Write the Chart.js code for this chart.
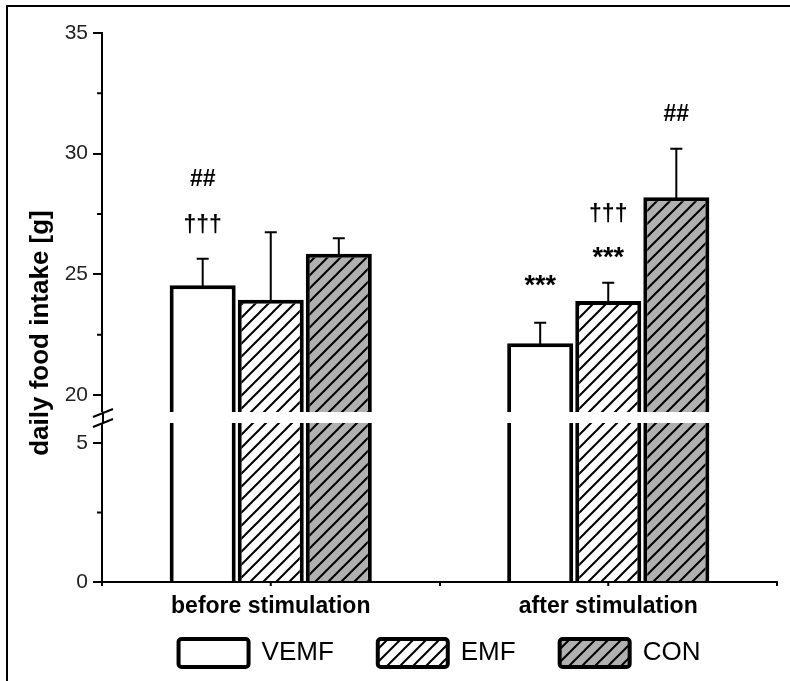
<!DOCTYPE html>
<html><head><meta charset="utf-8">
<script src="https://cdn.jsdelivr.net/npm/chart.js@4/dist/chart.umd.min.js"></script>
<style>html,body{margin:0;padding:0;background:#fff}canvas{display:block}</style>
</head><body>
<canvas id="c" width="790" height="681"></canvas>
<script>
// ---- data ----
const categories = ['before stimulation', 'after stimulation'];
const seriesNames = ['VEMF', 'EMF', 'CON'];
const vemfMeans = [24.55, 22.15];
const emfMeans = [23.95, 23.9];
const conMeans = [25.85, 28.2];
const vemfSD = [1.1, 0.85];
const emfSD = [2.8, 0.75];
const conSD = [0.65, 2.0];
const upperTicks = [20, 25, 30, 35];
const upperMinorTicks = [22.5, 27.5, 32.5];
const lowerTicks = [0, 5];
const lowerMinorTicks = [2.5];
const UPPER_MIN = 19.07, UPPER_MAX = 35;
const LOWER_MIN = 0, LOWER_MAX = 5.92;
const markSeries = ['VEMF', 'VEMF', 'VEMF', 'EMF', 'EMF', 'CON'];
const markCategory = ['before stimulation', 'before stimulation', 'after stimulation', 'after stimulation', 'after stimulation', 'after stimulation'];
const markText = ['\u2020\u2020\u2020', '##', '***', '***', '\u2020\u2020\u2020', '##'];
const markValue = [27.1, 29.0, 24.75, 25.9, 27.55, 31.7];
const yTitle = 'daily food intake [g]';

const FONT = '"Liberation Sans", Arial, Helvetica, sans-serif';
const canvas = document.getElementById('c');
const mainCtx = canvas.getContext('2d');

function hatch(bg) {
  const s = 13;
  const c = document.createElement('canvas'); c.width = s; c.height = s;
  const g = c.getContext('2d');
  g.fillStyle = bg; g.fillRect(0, 0, s, s);
  g.strokeStyle = '#000'; g.lineWidth = 2;
  g.beginPath();
  g.moveTo(-2, s + 2); g.lineTo(s + 2, -2);
  g.moveTo(-2, 2); g.lineTo(2, -2);
  g.moveTo(s - 2, s + 2); g.lineTo(s + 2, s - 2);
  g.stroke();
  return mainCtx.createPattern(c, 'repeat');
}

const means = [vemfMeans, emfMeans, conMeans];
const sds = [vemfSD, emfSD, conSD];
const fills = ['#ffffff', hatch('#ffffff'), hatch('#b0b0b0')];

const datasets = [];
seriesNames.forEach((name, i) => {
  const common = {
    label: name, stack: name, backgroundColor: fills[i], borderColor: '#000',
    borderWidth: 4, barPercentage: 0.97, categoryPercentage: 0.605
  };
  datasets.push(Object.assign({}, common, { data: means[i], yAxisID: 'yUpper', base: UPPER_MIN, part: 'upper', seriesIndex: i }));
  datasets.push(Object.assign({}, common, { data: means[i].map(v => Math.min(v, LOWER_MAX)), yAxisID: 'yLower', part: 'lower', seriesIndex: i }));
});

const tickFont = { family: FONT, size: 21 };
function yScale(min, max, ticks, weight) {
  return {
    type: 'linear', position: 'left', stack: 'y', stackWeight: weight, stacked: false,
    min: min, max: max, beginAtZero: false,
    afterBuildTicks: s => { s.ticks = ticks.map(v => ({ value: v })); },
    afterFit: s => { s.width = 102; },
    border: { display: true, color: '#000', width: 2 },
    grid: { drawOnChartArea: false, drawTicks: true, tickLength: 9, tickWidth: 2, lineWidth: 2, tickColor: '#000' },
    ticks: { font: tickFont, color: '#222', padding: 5 }
  };
}

const breakPlugin = {
  id: 'extras',
  afterDatasetsDraw(chart) {
    const ctx = chart.ctx;
    const ca = chart.chartArea;
    const up = chart.scales.yUpper, lo = chart.scales.yLower, x = chart.scales.x;
    ctx.save();
    // error bars
    chart.data.datasets.forEach((ds, di) => {
      if (ds.part !== 'upper') return;
      const meta = chart.getDatasetMeta(di);
      meta.data.forEach((el, j) => {
        const top = up.getPixelForValue(means[ds.seriesIndex][j] + sds[ds.seriesIndex][j]);
        ctx.strokeStyle = '#000'; ctx.lineWidth = 2;
        ctx.beginPath();
        ctx.moveTo(el.x, el.y + 2); ctx.lineTo(el.x, top);
        ctx.moveTo(el.x - 6, top); ctx.lineTo(el.x + 6, top);
        ctx.stroke();
      });
    });
    // white gap of the broken axis
    const j = up.bottom;
    ctx.fillStyle = '#fff';
    ctx.fillRect(ca.left + 2, j - 5.5, ca.right - ca.left, 11);
    ctx.fillRect(ca.left - 3, j - 5.5, 6, 11);
    ctx.strokeStyle = '#000'; ctx.lineWidth = 2;
    ctx.beginPath();
    ctx.moveTo(ca.left + 1, j - 6); ctx.lineTo(ca.left + 1, j + 6);
    [-4.5, 5.5].forEach(o => {
      ctx.moveTo(ca.left - 9, j + o + 4); ctx.lineTo(ca.left + 11, j + o - 4);
    });
    ctx.stroke();
    // minor ticks
    ctx.beginPath();
    upperMinorTicks.forEach(v => { const p = up.getPixelForValue(v); ctx.moveTo(ca.left - 5, p); ctx.lineTo(ca.left, p); });
    lowerMinorTicks.forEach(v => { const p = lo.getPixelForValue(v); ctx.moveTo(ca.left - 5, p); ctx.lineTo(ca.left, p); });
    categories.forEach((c, i) => { const p = x.getPixelForValue(i); ctx.moveTo(p, ca.bottom); ctx.lineTo(p, ca.bottom + 4); });
    ctx.stroke();
    // significance marks
    ctx.fillStyle = '#000';
    ctx.textAlign = 'center'; ctx.textBaseline = 'alphabetic';
    markText.forEach((t, k) => {
      const si = seriesNames.indexOf(markSeries[k]);
      const ci = categories.indexOf(markCategory[k]);
      const di = chart.data.datasets.findIndex(d => d.part === 'upper' && d.seriesIndex === si);
      const el = chart.getDatasetMeta(di).data[ci];
      const py = up.getPixelForValue(markValue[k]);
      ctx.font = 'bold ' + (t === '***' ? 27 : 23) + 'px ' + FONT;
      const m = ctx.measureText(t);
      ctx.fillText(t, el.x, py + (m.actualBoundingBoxAscent - m.actualBoundingBoxDescent) / 2);
    });
    // y title
    ctx.save();
    ctx.translate(41, 333);
    ctx.rotate(-Math.PI / 2);
    ctx.font = 'bold 26px ' + FONT;
    ctx.textAlign = 'center'; ctx.textBaseline = 'middle';
    ctx.fillText(yTitle, 0, 0);
    ctx.restore();
    // frame
    ctx.strokeStyle = '#000'; ctx.lineWidth = 2;
    ctx.beginPath();
    ctx.moveTo(790, 6); ctx.lineTo(7, 6); ctx.lineTo(7, 681);
    ctx.stroke();
    ctx.restore();
  }
};

new Chart(canvas, {
  type: 'bar',
  data: { labels: categories, datasets: datasets },
  options: {
    responsive: false, animation: false, devicePixelRatio: 1,
    layout: { padding: { top: 33, right: 13, left: 0, bottom: 4 } },
    plugins: {
      legend: {
        position: 'bottom', fullSize: false,
        labels: {
          filter: (item, data) => data.datasets[item.datasetIndex].part === 'upper',
          boxWidth: 70, boxHeight: 28, padding: 44, color: '#000',
          font: { family: FONT, size: 26 }, useBorderRadius: true, borderRadius: 3
        }
      },
      tooltip: { enabled: false }
    },
    scales: {
      x: {
        type: 'category',
        border: { display: true, color: '#000', width: 2 },
        grid: { drawOnChartArea: false, drawTicks: true, tickLength: 4, lineWidth: 2, tickColor: '#000' },
        ticks: { font: { family: FONT, size: 23, weight: 'bold' }, color: '#000', padding: -38, mirror: true },
        afterFit: s => { s.height = 13; }
      },
      yLower: yScale(LOWER_MIN, LOWER_MAX, lowerTicks, 164.5),
      yUpper: yScale(UPPER_MIN, UPPER_MAX, upperTicks, 384.5)
    }
  },
  plugins: [breakPlugin]
});
</script>
</body></html>
